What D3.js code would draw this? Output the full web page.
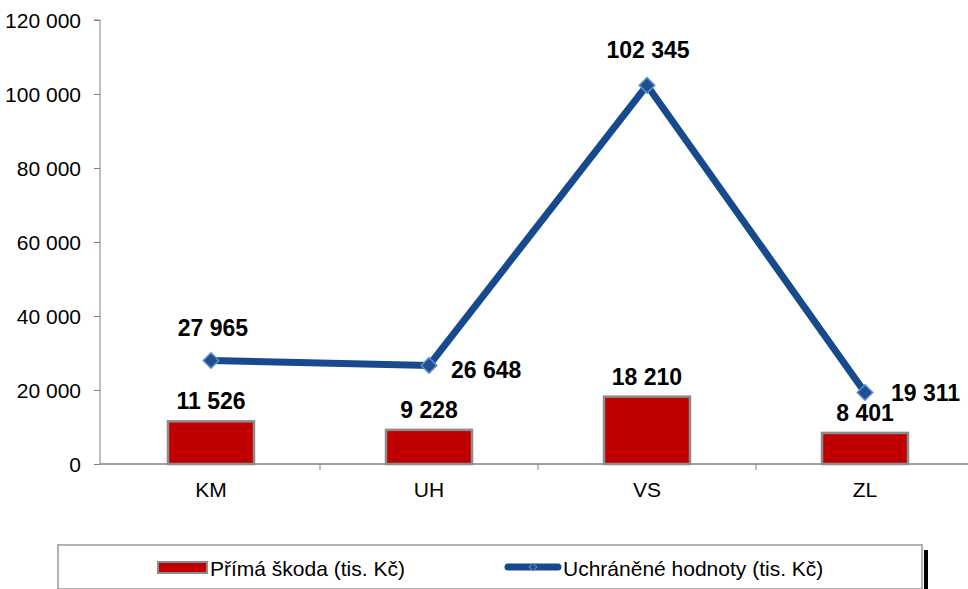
<!DOCTYPE html>
<html><head><meta charset="utf-8">
<script src="https://cdn.jsdelivr.net/npm/d3@7"></script>
<style>body{margin:0;background:#fff;}svg{display:block;font-family:"Liberation Sans",Arial,sans-serif;}</style>
</head><body>
<svg id="c" width="968" height="589"></svg>
<script>
const categories = ["KM","UH","VS","ZL"];
const primaSkoda = [11526, 9228, 18210, 8401];
const uchranene = [27965, 26648, 102345, 19311];
const yTicks = [0,20000,40000,60000,80000,100000,120000];
const seriesNames = ["Přímá škoda (tis. Kč)","Uchráněné hodnoty (tis. Kč)"];

const svg = d3.select("#c");
const fmt = v => d3.format(",")(v).replace(/,/g," ");
const x = d3.scaleBand().domain(categories).range([102, 974]);
const y = d3.scaleLinear().domain([0,120000]).range([464, 20]);

// y axis
const ya = svg.append("g").attr("transform","translate(100,0)")
  .call(d3.axisLeft(y).tickValues(yTicks).tickSize(6).tickFormat(fmt));
ya.select(".domain").attr("stroke","#808080").attr("d","M-6,20H0V464");
ya.selectAll(".tick line").attr("stroke","#808080");
ya.selectAll("text").attr("font-size",21).attr("fill","#000").attr("x",-19).attr("dy","0.35em").attr("font-family","Liberation Sans, Arial");

// x axis
const xa = svg.append("g").attr("transform","translate(0,464)");
xa.append("line").attr("x1",100).attr("x2",974).attr("stroke","#808080").attr("stroke-width",1.5);
categories.forEach((c,i)=>{
  const bx = x(c);
  xa.append("line").attr("x1",bx+x.bandwidth()).attr("x2",bx+x.bandwidth()).attr("y1",0).attr("y2",6).attr("stroke","#808080");
  xa.append("text").attr("x",bx+x.bandwidth()/2).attr("y",33).attr("text-anchor","middle").attr("font-size",21).text(c);
});

// bars
const bw = 86;
svg.append("g").selectAll("rect").data(primaSkoda).join("rect")
  .attr("x",(d,i)=>x(categories[i])+x.bandwidth()/2-bw/2)
  .attr("y",d=>y(d)).attr("width",bw).attr("height",d=>464-y(d))
  .attr("fill","#C00000").attr("stroke","#8C8C8C").attr("stroke-width",2.5);
svg.append("g").selectAll("text").data(primaSkoda).join("text")
  .attr("x",(d,i)=>x(categories[i])+x.bandwidth()/2)
  .attr("y",d=>y(d)-12).attr("text-anchor","middle")
  .attr("font-size",23).attr("font-weight","bold").text(fmt);

// line
const cx = i => x(categories[i])+x.bandwidth()/2;
const line = d3.line().x((d,i)=>cx(i)).y(d=>y(d));
svg.append("path").datum(uchranene).attr("d",line).attr("fill","none")
  .attr("stroke","#174A8C").attr("stroke-width",7).attr("stroke-linejoin","miter");
svg.append("g").selectAll("path").data(uchranene).join("path")
  .attr("d",d3.symbol(d3.symbolSquare,120)())
  .attr("transform",(d,i)=>`translate(${cx(i)},${y(d)}) rotate(45)`)
  .attr("fill","#1F4F8F").attr("stroke","#5B8FCF").attr("stroke-width",1.5);
const lblOff = [[2,-25,"middle"],[22,13,"start"],[1,-27,"middle"],[26,8,"start"]];
svg.append("g").selectAll("text").data(uchranene).join("text")
  .attr("x",(d,i)=>cx(i)+lblOff[i][0]).attr("y",(d,i)=>y(d)+lblOff[i][1])
  .attr("text-anchor",(d,i)=>lblOff[i][2])
  .attr("font-size",23).attr("font-weight","bold").text(fmt);

// legend
const lg = svg.append("g");
lg.append("rect").attr("x",924).attr("y",550).attr("width",4).attr("height",40).attr("fill","#000");
lg.append("rect").attr("x",58).attr("y",545).attr("width",864).attr("height",44).attr("fill","#fff").attr("stroke","#999").attr("stroke-width",1.5);
lg.append("rect").attr("x",158).attr("y",562).attr("width",49).attr("height",11).attr("fill","#C00000").attr("stroke","#8C8C8C").attr("stroke-width",2);
lg.append("text").attr("x",210).attr("y",576).attr("font-size",21).text(seriesNames[0]);
lg.append("line").attr("x1",508).attr("x2",558).attr("y1",567).attr("y2",567).attr("stroke","#174A8C").attr("stroke-width",7).attr("stroke-linecap","round");
lg.append("path").attr("d",d3.symbol(d3.symbolSquare,30)()).attr("transform","translate(533,567) rotate(45)").attr("fill","#1F4F8F").attr("stroke","#5B8FCF");
lg.append("text").attr("x",563).attr("y",576).attr("font-size",21).text(seriesNames[1]);
</script>
</body></html>
